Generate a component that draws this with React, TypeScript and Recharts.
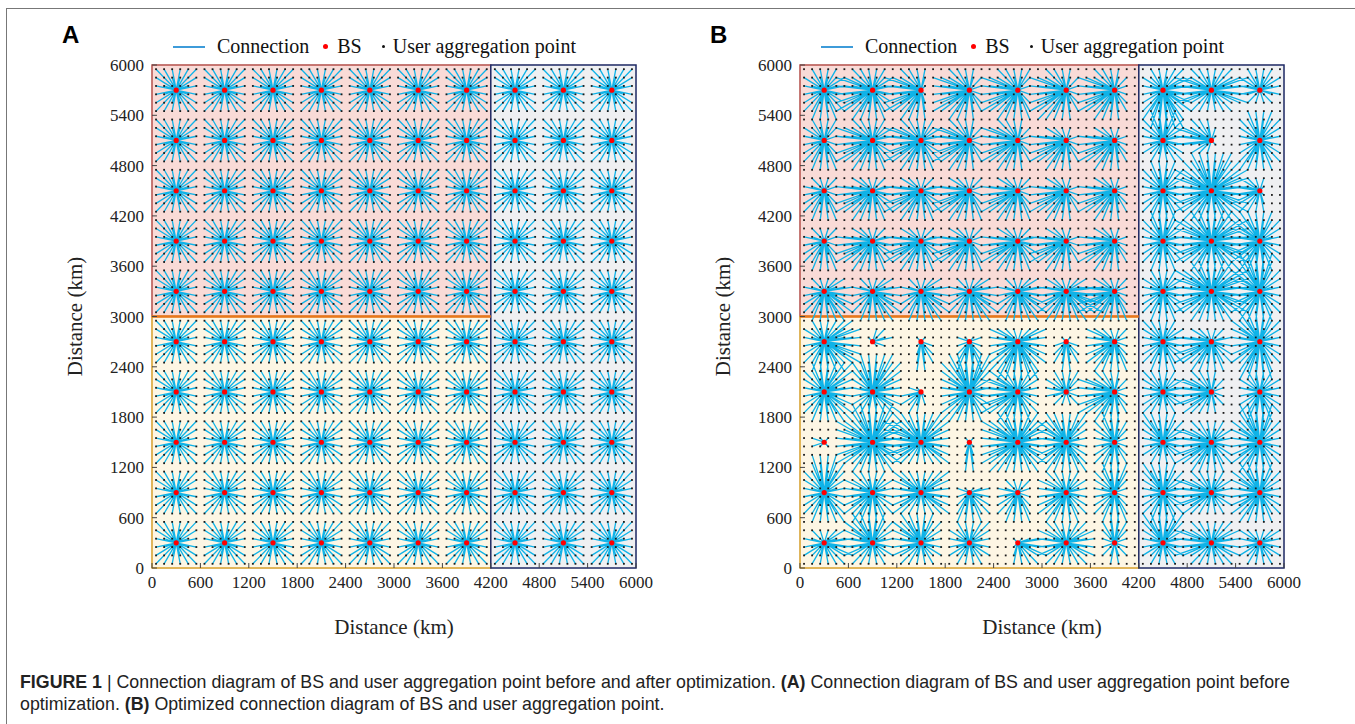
import React from 'react';
import {
  ComposedChart, Line, Scatter, XAxis, YAxis, CartesianGrid, ReferenceArea, ReferenceLine,
} from 'recharts';

// base station grid (km)
const bsCoords = [300, 900, 1500, 2100, 2700, 3300, 3900, 4500, 5100, 5700];

// user aggregation points, 100 km apart on both axes
const userCoords = [
  50, 150, 250, 350, 450, 550, 650, 750, 850, 950,
  1050, 1150, 1250, 1350, 1450, 1550, 1650, 1750, 1850, 1950,
  2050, 2150, 2250, 2350, 2450, 2550, 2650, 2750, 2850, 2950,
  3050, 3150, 3250, 3350, 3450, 3550, 3650, 3750, 3850, 3950,
  4050, 4150, 4250, 4350, 4450, 4550, 4650, 4750, 4850, 4950,
  5050, 5150, 5250, 5350, 5450, 5550, 5650, 5750, 5850, 5950,
];

const axisTicks = [0, 600, 1200, 1800, 2400, 3000, 3600, 4200, 4800, 5400, 6000];

// panel B: reach of every BS after optimization, [left, right, down, up] in km
// rows from top (y = 5700) to bottom (y = 300), columns x = 300 ... 5700
const reachB: number[][][] = [
  [[250, 250, 350, 250], [450, 250, 350, 250], [450, 100, 350, 250], [450, 150, 350, 250], [450, 200, 350, 250],
    [450, 150, 400, 250], [450, 150, 350, 250], [300, 350, 450, 250], [450, 450, 250, 250], [250, 250, 150, 250]],
  [[250, 200, 400, 250], [450, 250, 350, 250], [450, 250, 350, 250], [450, 150, 350, 250], [450, 150, 350, 250],
    [450, 150, 350, 150], [450, 150, 350, 150], [250, 300, 300, 350], [450, 50, 150, 250], [300, 250, 400, 350]],
  [[250, 200, 400, 150], [450, 250, 350, 150], [450, 250, 350, 150], [450, 200, 350, 150], [450, 200, 350, 150],
    [450, 150, 350, 150], [450, 150, 350, 150], [250, 250, 350, 350], [450, 450, 400, 450], [400, 100, 250, 150]],
  [[250, 200, 350, 150], [450, 250, 350, 150], [450, 250, 350, 150], [450, 200, 350, 150], [450, 250, 350, 150],
    [450, 150, 350, 150], [450, 150, 350, 150], [250, 250, 400, 350], [450, 450, 350, 350], [400, 300, 350, 350]],
  [[250, 350, 350, 150], [250, 350, 350, 150], [250, 350, 350, 150], [250, 350, 350, 150], [250, 350, 350, 150],
    [350, 450, 350, 150], [450, 200, 350, 150], [300, 300, 350, 250], [450, 450, 350, 350], [400, 250, 350, 450]],
  [[250, 450, 350, 300], [50, 300, 50, 150], [100, 150, 350, 50], [200, 200, 350, 50], [400, 350, 450, 200],
    [150, 150, 400, 50], [400, 200, 350, 200], [300, 250, 350, 300], [450, 250, 350, 150], [350, 250, 450, 400]],
  [[250, 400, 350, 400], [300, 400, 300, 450], [250, 50, 300, 50], [350, 300, 350, 500], [450, 300, 350, 300],
    [250, 200, 150, 250], [450, 150, 350, 250], [300, 250, 300, 300], [450, 150, 300, 250], [250, 250, 350, 250]],
  [[250, 100, 50, 50], [450, 350, 350, 450], [450, 400, 300, 400], [100, 100, 350, 50], [450, 350, 400, 350],
    [350, 300, 400, 400], [300, 150, 350, 350], [300, 250, 250, 400], [450, 250, 350, 250], [350, 250, 400, 450]],
  [[250, 300, 400, 450], [400, 300, 350, 250], [400, 400, 300, 300], [200, 250, 350, 100], [250, 200, 350, 150],
    [350, 250, 400, 300], [300, 200, 350, 350], [300, 250, 350, 400], [450, 250, 300, 250], [350, 250, 350, 350]],
  [[250, 350, 250, 150], [400, 300, 250, 350], [350, 300, 250, 350], [250, 300, 250, 300], [100, 400, 250, 100],
    [350, 350, 250, 300], [150, 150, 250, 350], [300, 300, 250, 400], [450, 350, 250, 250], [250, 250, 250, 200]],
];

type Pt = { x: number; y: number | null };

const bsPoints = bsCoords.flatMap((y) => bsCoords.map((x) => ({ x, y })));
const userPoints = userCoords.flatMap((y) => userCoords.map((x) => ({ x, y })));

// star of spokes per BS: BS -> user -> BS -> user ..., broken by a null point
function buildConnections(reach: (col: number, row: number, dx: number, dy: number) => boolean): Pt[] {
  const out: Pt[] = [];
  bsCoords.forEach((by, row) => {
    bsCoords.forEach((bx, col) => {
      out.push({ x: bx, y: by });
      userCoords.forEach((uy) => {
        userCoords.forEach((ux) => {
          const dx = ux - bx;
          const dy = uy - by;
          if (Math.abs(dx) > 500 || Math.abs(dy) > 500) return;
          if (reach(col, row, dx, dy)) {
            out.push({ x: ux, y: uy });
            out.push({ x: bx, y: by });
          }
        });
      });
      out.push({ x: bx, y: null });
    });
  });
  return out;
}

const connA = buildConnections((_c, _r, dx, dy) => Math.abs(dx) < 300 && Math.abs(dy) < 300);
const connB = buildConnections((col, row, dx, dy) => {
  const [l, r, d, u] = reachB[9 - row][col];
  const ex = dx < 0 ? l : r;
  const ey = dy < 0 ? d : u;
  if (Math.abs(dx) > ex || Math.abs(dy) > ey) return false;
  return (dx / ex) ** 2 + (dy / ey) ** 2 <= 1.6;
});

const serif = '"Liberation Serif", "Times New Roman", serif';
const sans = '"Liberation Sans", Arial, sans-serif';

const UserDot = (p: any) => <rect x={p.cx - 0.9} y={p.cy - 0.9} width={1.8} height={1.8} fill="#1a1a1a" />;
const BsDot = (p: any) => <circle cx={p.cx} cy={p.cy} r={2.6} fill="#ff0000" />;

const Panel = ({ letter, conn, left }: { letter: string; conn: Pt[]; left: number }) => (
  <div style={{ position: 'absolute', left, top: 0, width: 680, height: 640 }}>
    <div style={{ position: 'absolute', left: 62, top: 21, fontFamily: sans, fontWeight: 'bold', fontSize: 24 }}>{letter}</div>
    <div style={{ position: 'absolute', left: 173, top: 35, fontFamily: serif, fontSize: 20, color: '#111', display: 'flex', alignItems: 'center', whiteSpace: 'nowrap' }}>
      <span style={{ display: 'inline-block', width: 32, height: 2, background: '#3d9bd9', marginRight: 12 }} />
      <span>Connection</span>
      <span style={{ display: 'inline-block', width: 5, height: 5, borderRadius: 3, background: '#ff0000', margin: '0 9px 0 14px' }} />
      <span>BS</span>
      <span style={{ display: 'inline-block', width: 3, height: 3, borderRadius: 2, background: '#111', margin: '0 8px 0 20px' }} />
      <span>User aggregation point</span>
    </div>
    <ComposedChart width={680} height={640} margin={{ top: 65, right: 44, bottom: 4, left: 72 }}>
      <XAxis
        type="number" dataKey="x" domain={[0, 6000]} ticks={axisTicks} allowDataOverflow axisLine={false}
        tickSize={-5} tickMargin={13} tickLine={{ stroke: '#444' }} interval={0} height={68}
        tick={{ fontFamily: serif, fontSize: 17, fill: '#222' }}
        label={{ value: 'Distance (km)', position: 'insideBottom', offset: 2, style: { fontFamily: serif, fontSize: 21, fill: '#222' } }}
      />
      <YAxis
        type="number" dataKey="y" domain={[0, 6000]} ticks={axisTicks} allowDataOverflow axisLine={false}
        tickSize={-5} tickMargin={13} tickLine={{ stroke: '#444' }} interval={0} width={80}
        tick={{ fontFamily: serif, fontSize: 17, fill: '#222' }}
        label={{ value: 'Distance (km)', angle: -90, position: 'insideLeft', offset: 3, style: { fontFamily: serif, fontSize: 21, fill: '#222', textAnchor: 'middle' } }}
      />
      <ReferenceArea x1={0} x2={4200} y1={3000} y2={6000} fill="#f9dbd7" fillOpacity={1} stroke="#b7524c" strokeWidth={1.5} />
      <ReferenceArea x1={0} x2={4200} y1={0} y2={3000} fill="#fdf6e4" fillOpacity={1} stroke="#d9a12b" strokeWidth={1.5} />
      <ReferenceArea x1={4200} x2={6000} y1={0} y2={6000} fill="#eff0f2" fillOpacity={1} stroke="#1f2a66" strokeWidth={1.5} />
      <CartesianGrid stroke="#cfcfcf" strokeOpacity={0.6} />
      <ReferenceLine segment={[{ x: 0, y: 3000 }, { x: 4200, y: 3000 }]} stroke="#e8771c" strokeWidth={2.5} />
      <Line data={conn} dataKey="y" type="linear" stroke="#0fb3e8" strokeWidth={1.3} dot={false} connectNulls={false} isAnimationActive={false} />
      <Scatter data={userPoints} shape={UserDot} isAnimationActive={false} />
      <Scatter data={bsPoints} shape={BsDot} isAnimationActive={false} />
    </ComposedChart>
  </div>
);

export default function App() {
  return (
    <div style={{ position: 'absolute', left: 0, top: 0, width: 1355, height: 724, background: '#fff', overflow: 'hidden' }}>
      <div style={{ position: 'absolute', left: 6, top: 8, width: 1370, height: 730, border: '1px solid #777' }} />
      <Panel letter="A" conn={connA} left={0} />
      <Panel letter="B" conn={connB} left={648} />
      <div style={{ position: 'absolute', left: 20, top: 671, fontFamily: sans, fontSize: 17.8, lineHeight: '22px', color: '#222', whiteSpace: 'nowrap' }}>
        <b>FIGURE 1</b> | Connection diagram of BS and user aggregation point before and after optimization. <b>(A)</b> Connection diagram of BS and user aggregation point before
        <br />
        optimization. <b>(B)</b> Optimized connection diagram of BS and user aggregation point.
      </div>
    </div>
  );
}
